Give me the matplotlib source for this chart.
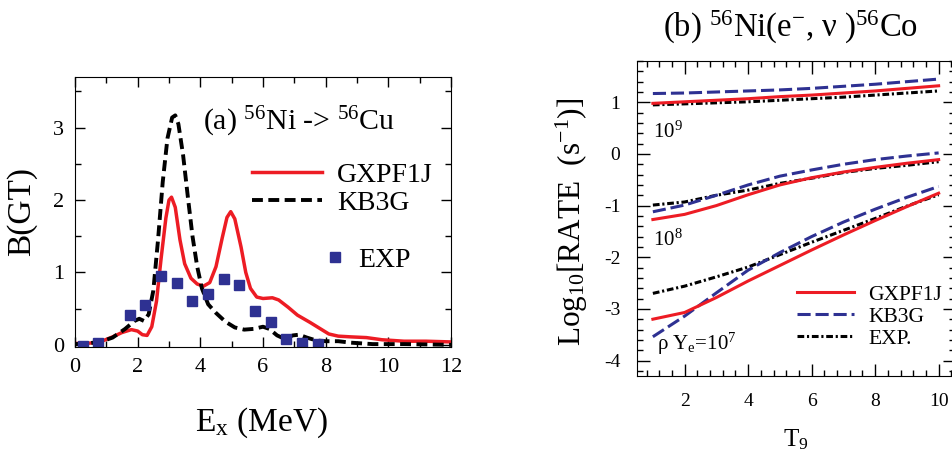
import matplotlib
matplotlib.use("Agg")
import matplotlib.pyplot as plt
from matplotlib.lines import Line2D
from matplotlib.ticker import MultipleLocator

plt.rcParams['font.family'] = ['Liberation Serif', 'DejaVu Serif']
plt.rcParams['mathtext.fontset'] = 'custom'
plt.rcParams['mathtext.rm'] = 'Liberation Serif'
plt.rcParams['mathtext.it'] = 'Liberation Serif:italic'
plt.rcParams['axes.unicode_minus'] = False

RED = '#ED1C24'
BLUE = '#2E3192'

# ---------------- panel (a) data ----------------
e_gx = [0.0, 0.4, 0.8, 1.2, 1.5, 1.8, 2.0, 2.15, 2.3, 2.45, 2.6, 2.75, 2.9, 3.0, 3.08,
        3.2, 3.35, 3.5, 3.7, 3.9, 4.1, 4.3, 4.5, 4.7, 4.85, 4.97, 5.1, 5.3, 5.45, 5.6,
        5.8, 6.0, 6.3, 6.5, 6.8, 7.1, 7.5, 7.8, 8.1, 8.4, 8.8, 9.3, 9.8, 10.5, 11.2, 12.0]
b_gx = [0.02, 0.02, 0.04, 0.11, 0.17, 0.21, 0.19, 0.14, 0.13, 0.25, 0.60, 1.20, 1.75, 2.00, 2.04,
        1.90, 1.45, 1.12, 0.92, 0.84, 0.81, 0.86, 1.08, 1.48, 1.76, 1.84, 1.74, 1.35, 1.00, 0.78,
        0.66, 0.64, 0.65, 0.62, 0.52, 0.41, 0.31, 0.23, 0.15, 0.12, 0.11, 0.10, 0.07, 0.05, 0.05, 0.04]

e_kb = [0.0, 0.4, 0.8, 1.2, 1.6, 1.9, 2.05, 2.2, 2.35, 2.5, 2.65, 2.8, 2.95, 3.1, 3.2,
        3.3, 3.45, 3.6, 3.75, 3.9, 4.05, 4.25, 4.5, 4.8, 5.1, 5.4, 5.7, 6.0, 6.2, 6.45,
        6.7, 6.95, 7.15, 7.4, 7.7, 8.0, 8.4, 8.8, 9.5, 10.5, 12.0]
b_kb = [0.01, 0.02, 0.04, 0.10, 0.22, 0.33, 0.36, 0.33, 0.42, 0.75, 1.45, 2.25, 2.85, 3.14, 3.17,
        3.05, 2.62, 2.05, 1.50, 1.08, 0.78, 0.56, 0.44, 0.32, 0.24, 0.21, 0.22, 0.25, 0.22, 0.13,
        0.08, 0.13, 0.14, 0.10, 0.06, 0.05, 0.05, 0.03, 0.01, 0.01, 0.0]

e_exp = [0.25, 0.75, 1.75, 2.25, 2.75, 3.25, 3.75, 4.25, 4.75, 5.25, 5.75, 6.25, 6.75, 7.25, 7.75]
b_exp = [-0.02, 0.03, 0.41, 0.55, 0.95, 0.86, 0.60, 0.70, 0.91, 0.83, 0.47, 0.31, 0.08, 0.02, 0.01]

# ---------------- panel (b) data ----------------
t9 = [1, 2, 3, 4, 5, 6, 7, 8, 9, 10]
# rho*Ye = 1e9
gx_9 = [0.98, 1.01, 1.04, 1.07, 1.11, 1.14, 1.18, 1.22, 1.27, 1.32]
kb_9 = [1.17, 1.18, 1.20, 1.22, 1.24, 1.27, 1.31, 1.35, 1.40, 1.45]
ex_9 = [0.95, 0.97, 0.99, 1.01, 1.04, 1.07, 1.10, 1.14, 1.18, 1.22]
# rho*Ye = 1e8
gx_8 = [-1.27, -1.17, -1.00, -0.79, -0.60, -0.46, -0.35, -0.26, -0.18, -0.11]
kb_8 = [-1.12, -0.99, -0.80, -0.60, -0.43, -0.31, -0.20, -0.11, -0.04, 0.02]
ex_8 = [-0.99, -0.93, -0.80, -0.70, -0.57, -0.47, -0.36, -0.28, -0.22, -0.15]
# rho*Ye = 1e7
gx_7 = [-3.20, -3.07, -2.78, -2.46, -2.16, -1.86, -1.57, -1.29, -1.02, -0.76]
kb_7 = [-3.54, -3.14, -2.69, -2.25, -1.91, -1.60, -1.32, -1.07, -0.84, -0.63]
ex_7 = [-2.70, -2.56, -2.38, -2.19, -1.95, -1.71, -1.48, -1.25, -1.01, -0.79]

fig = plt.figure(figsize=(9.53, 4.57), dpi=100)

# ================= panel (a) =================
ax1 = fig.add_axes([75/953, 1-347/457, 376/953, 270/457])
ax1.plot(e_gx, b_gx, color=RED, lw=2.5, solid_joinstyle='round')
ax1.plot(e_kb, b_kb, color='black', lw=2.8, linestyle=(0, (2.8, 1.4)))
ax1.plot(e_exp, b_exp, linestyle='none', marker='s', ms=7, color=BLUE, mec=BLUE)
ax1.set_xlim(0, 12)
ax1.set_ylim(-0.03, 3.7)
ax1.xaxis.set_major_locator(MultipleLocator(2))
ax1.xaxis.set_minor_locator(MultipleLocator(1))
ax1.yaxis.set_major_locator(MultipleLocator(1))
ax1.yaxis.set_minor_locator(MultipleLocator(0.5))
ax1.tick_params(which='both', direction='in', top=True, right=True, width=1.0)
ax1.tick_params(which='major', length=7, labelsize=16, pad=8)
ax1.tick_params(which='minor', length=4)
ax1.set_xlabel(r"E$_\mathrm{x}$ (MeV)", fontsize=24)
ax1.xaxis.set_label_coords(0.497, -0.215)
ax1.set_ylabel("B(GT)", fontsize=24)
ax1.yaxis.set_label_coords(-0.10, 0.5)
ax1.text(0.34, 0.804, r"(a) $^{56}$Ni -> $^{56}$Cu", transform=ax1.transAxes,
         fontsize=21.5, ha='left', va='baseline')

h_gx = Line2D([], [], color=RED, lw=2.5)
h_kb = Line2D([], [], color='black', lw=2.8, linestyle=(0, (2.8, 1.4)))
leg1 = ax1.legend([h_gx, h_kb], ["GXPF1J", "KB3G"], loc='center left',
                  bbox_to_anchor=(0.471, 0.585), frameon=False, fontsize=20,
                  handlelength=2.5, handletextpad=0.55, labelspacing=0.1,
                  borderpad=0, borderaxespad=0)
ax1.add_artist(leg1)
h_ex = Line2D([], [], linestyle='none', marker='s', ms=7, color=BLUE)
ax1.legend([h_ex], ["EXP"], loc='center left', bbox_to_anchor=(0.661, 0.322),
           frameon=False, fontsize=20, handlelength=0.8, handletextpad=0.45,
           borderpad=0, borderaxespad=0)

# ================= panel (b) =================
ax2 = fig.add_axes([637/953, 1-376/457, 317.5/953, 315/457])
ls_kb = (0, (4.3, 1.6))
ls_ex = (0, (2.2, 0.9, 0.7, 0.9))
for gx, kb, ex in [(gx_9, kb_9, ex_9), (gx_8, kb_8, ex_8), (gx_7, kb_7, ex_7)]:
    ax2.plot(t9, ex, color='black', lw=2.2, linestyle=ls_ex)
    ax2.plot(t9, kb, color=BLUE, lw=2.2, linestyle=ls_kb)
    ax2.plot(t9, gx, color=RED, lw=2.2)
ax2.set_xlim(0.5, 10.5)
ax2.set_ylim(-4.3, 1.8)
ax2.xaxis.set_major_locator(MultipleLocator(2))
ax2.xaxis.set_minor_locator(MultipleLocator(0.4))
ax2.yaxis.set_major_locator(MultipleLocator(1))
ax2.yaxis.set_minor_locator(MultipleLocator(0.2))
ax2.tick_params(which='both', direction='in', top=True, right=True, width=1.0)
ax2.tick_params(which='major', length=9, labelsize=14, pad=12)
ax2.tick_params(which='minor', length=4.5)
ax2.set_xlabel(r"T$_9$", fontsize=18)
ax2.xaxis.set_label_coords(0.5, -0.162)
ax2.set_ylabel(r"Log$_{10}$[RATE  (s$^{-1}$)]", fontsize=22.5)
ax2.yaxis.set_label_coords(-0.148, 0.49)
ax2.text(0.482, 1.105, r"(b) $^{56}$Ni(e$^{-}$, ν )$^{56}$Co", transform=ax2.transAxes,
         fontsize=23.5, ha='center', va='center')
ax2.text(0.99, 0.31, r"10$^9$", fontsize=15, ha='left', va='baseline')
ax2.text(0.99, -1.77, r"10$^8$", fontsize=15, ha='left', va='baseline')
ax2.text(1.14, -3.80, r"ρ Y$_\mathrm{e}$=10$^7$", fontsize=15, ha='left', va='baseline')

hg = Line2D([], [], color=RED, lw=2.2)
hk = Line2D([], [], color=BLUE, lw=2.2, linestyle=ls_kb)
he = Line2D([], [], color='black', lw=2.2, linestyle=ls_ex)
ax2.legend([hg, hk, he], ["GXPF1J", "KB3G", "EXP."], loc='center left',
           bbox_to_anchor=(0.505, 0.188), frameon=False, fontsize=15.5,
           handlelength=2.65, handletextpad=0.65, labelspacing=0.08,
           borderpad=0, borderaxespad=0)

fig.savefig("out.png", dpi=100)
